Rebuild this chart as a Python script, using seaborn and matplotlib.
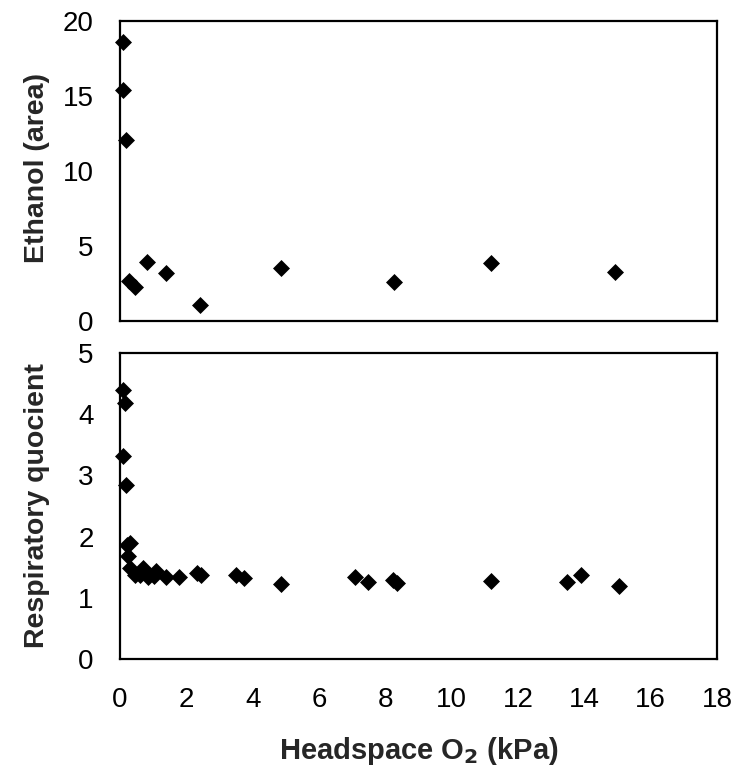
import numpy as np
import pandas as pd
import matplotlib
matplotlib.use('Agg')
import matplotlib.pyplot as plt
import seaborn as sns

# Ethanol (area) vs headspace O2
eth_o2 = [0.10, 0.10, 0.18, 0.28, 0.45, 0.80, 1.39, 2.41, 4.85, 8.26, 11.20, 14.93]
eth_area = [18.6, 15.4, 12.1, 2.67, 2.27, 3.92, 3.2, 1.07, 3.54, 2.59, 3.9, 3.3]

# Respiratory quotient vs headspace O2
rq_o2 = [0.10, 0.15, 0.10, 0.18, 0.20, 0.30, 0.23, 0.30, 0.45, 0.68, 0.60, 0.85,
         1.10, 1.02, 1.39, 1.78, 2.31, 2.43, 3.50, 3.74, 4.85, 7.08, 7.49, 8.24,
         8.36, 11.18, 13.49, 13.90, 15.04]
rq_val = [4.39, 4.19, 3.31, 2.85, 1.86, 1.90, 1.68, 1.48, 1.38, 1.49, 1.37, 1.34,
          1.44, 1.35, 1.34, 1.34, 1.41, 1.37, 1.38, 1.32, 1.23, 1.34, 1.26, 1.29,
          1.25, 1.28, 1.26, 1.37, 1.19]

x_ticks = list(range(0, 19, 2))
eth_ticks = [0, 5, 10, 15, 20]
rq_ticks = [0, 1, 2, 3, 4, 5]

eth = pd.DataFrame({'o2': eth_o2, 'val': eth_area})
rq = pd.DataFrame({'o2': rq_o2, 'val': rq_val})

sns.set_style("white")
plt.rcParams['font.family'] = ['Liberation Sans', 'DejaVu Sans']

fig = plt.figure(figsize=(7.53, 7.69), dpi=100)
ax1 = fig.add_axes([120 / 753, 1 - 321 / 769, 597 / 753, 300 / 769])
ax2 = fig.add_axes([120 / 753, 1 - 659 / 769, 597 / 753, 306 / 769])

for ax, df, ticks, label in [(ax1, eth, eth_ticks, 'Ethanol (area)'),
                             (ax2, rq, rq_ticks, 'Respiratory quocient')]:
    sns.scatterplot(data=df, x='o2', y='val', ax=ax, marker='D', color='black',
                    s=75, edgecolor='black', linewidth=0, clip_on=False, zorder=3)
    ax.set_xlim(0, 18)
    ax.set_ylim(ticks[0], ticks[-1])
    ax.set_xticks(x_ticks)
    ax.set_yticks(ticks)
    ax.tick_params(direction='in', length=9, width=1.2, color='#808080',
                   labelsize=20, labelcolor='black', pad=19)
    ax.tick_params(axis='x', pad=20)
    for sp in ax.spines.values():
        sp.set_visible(True)
        sp.set_color('black')
        sp.set_linewidth(1.6)
    ax.set_ylabel(label, fontsize=20.5, fontweight='bold')
    ax.set_xlabel('')

ax1.tick_params(axis='x', labelbottom=False)
ax1.yaxis.set_label_coords(-0.117, 0.51)
ax2.yaxis.set_label_coords(-0.118, 0.5)
ax2.set_xlabel('Headspace O$_\\mathbf{2}$ (kPa)', fontsize=21, fontweight='bold', labelpad=16)

plt.savefig('out.png', dpi=100)
plt.close()
